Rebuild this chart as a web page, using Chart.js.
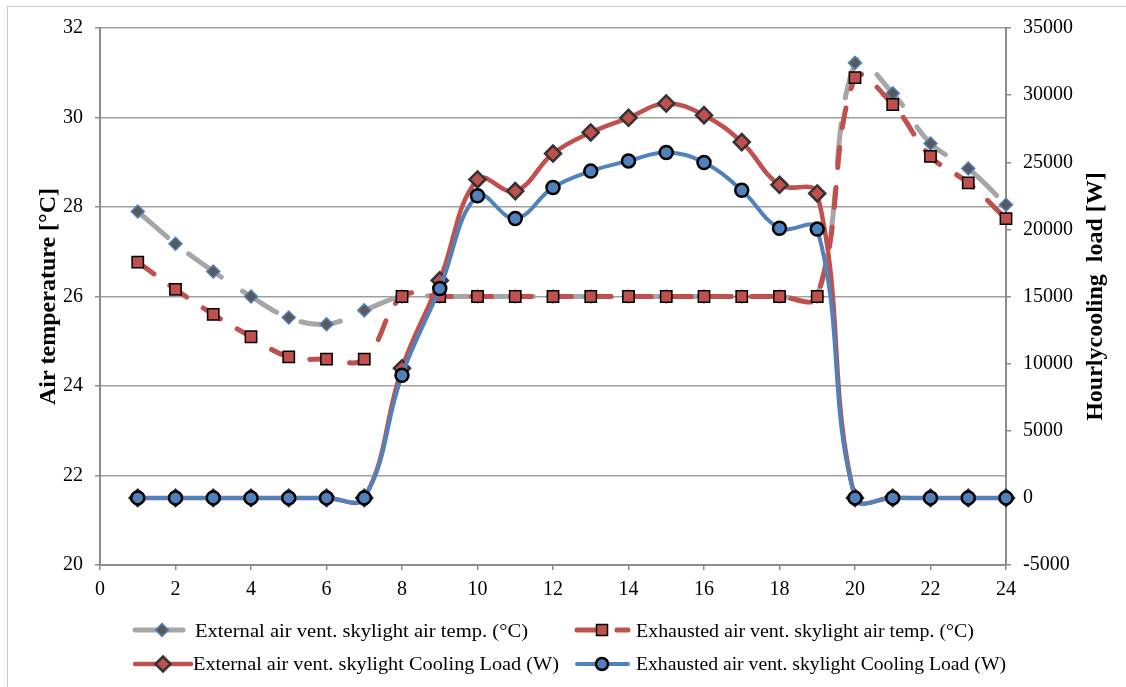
<!DOCTYPE html>
<html><head><meta charset="utf-8">
<script src="https://cdn.jsdelivr.net/npm/chart.js@4.4.1/dist/chart.umd.min.js"></script>
<style>
html,body{margin:0;padding:0;background:#fff;}
#wrap{position:relative;width:1126px;height:687px;overflow:hidden;background:#fff;}
#frame{position:absolute;left:7px;top:6px;width:1200px;height:800px;border:1px solid #c8c8c8;}
#c{position:absolute;left:0;top:0;}
.leg{position:absolute;font-family:'Liberation Serif','Times New Roman',serif;font-size:18px;line-height:20px;color:#000;white-space:pre;transform-origin:0 50%;}
#sw{position:absolute;left:0;top:600px;}
</style></head>
<body><div id="wrap"><div id="frame"></div><canvas id="c" width="1126" height="687"></canvas>
<svg id="sw" width="1126" height="87" xmlns="http://www.w3.org/2000/svg"></svg>
</div>
<script>
// ---- data ----
const hours = [1,2,3,4,5,6,7,8,9,10,11,12,13,14,15,16,17,18,19,20,21,22,23,24];
const extTemp = [27.9,27.18,26.56,26.0,25.53,25.38,25.69,26.0,26.0,26.0,26.0,26.0,26.0,26.0,26.0,26.0,26.0,26.0,26.0,31.22,30.54,29.42,28.86,28.05];
const exhTemp = [26.77,26.16,25.6,25.1,24.65,24.6,24.6,26.0,26.0,26.0,26.0,26.0,26.0,26.0,26.0,26.0,26.0,26.0,26.0,30.89,30.29,29.13,28.54,27.74];
const extLoad = [0,0,0,0,0,0,0,9660,16200,23720,22850,25650,27220,28310,29380,28510,26500,23320,22680,0,0,0,0,0];
const exhLoad = [0,0,0,0,0,0,0,9140,15600,22500,20810,23120,24340,25100,25730,24980,22920,20090,20020,0,0,0,0,0];
const seriesNames = [
  'External air vent. skylight air temp. (°C)',
  'Exhausted air vent. skylight air temp. (°C)',
  'External air vent. skylight Cooling Load (W)',
  'Exhausted air vent. skylight Cooling Load (W)'
];
const xTicks = [0,2,4,6,8,10,12,14,16,18,20,22,24];
const leftTitle = 'Air temperature [°C]';
const rightTitle = 'Hourlycooling  load [W]';

const pts = arr => hours.map((h,i)=>({x:h,y:arr[i]}));
const FONT = "'Liberation Serif','Times New Roman',serif";
const GRAY='#A6A6A6', RED='#C0504D', BLUE='#4F81BD';
const axisCol='#8c8c8c';

const rightTitlePlugin = {
  id:'rtitle',
  afterDraw(chart){
    const ctx = chart.ctx, ca = chart.chartArea;
    ctx.save();
    ctx.translate(1096, (ca.top+ca.bottom)/2);
    ctx.rotate(-Math.PI/2);
    ctx.font = "bold 24px "+FONT;
    ctx.fillStyle='#000'; ctx.textAlign='center'; ctx.textBaseline='middle';
    ctx.fillText(rightTitle,0,0);
    ctx.restore();
  }
};

new Chart(document.getElementById('c'), {
  type:'line',
  data:{datasets:[
    {label:seriesNames[0], data:pts(extTemp), yAxisID:'y', order:4, borderColor:GRAY, borderWidth:5, borderDash:[40,26], borderCapStyle:'round', tension:0.4,
     pointStyle:'rectRot', pointRadius:6.5, pointBackgroundColor:'#595959', pointBorderColor:BLUE, pointBorderWidth:1.5, clip:false},
    {label:seriesNames[1], data:pts(exhTemp), yAxisID:'y', order:3, borderColor:RED, borderWidth:5, borderDash:[20,20], borderCapStyle:'round', tension:0.4,
     pointStyle:'rect', pointRadius:8, pointBackgroundColor:RED, pointBorderColor:'#000', pointBorderWidth:1.5, clip:false},
    {label:seriesNames[2], data:pts(extLoad), yAxisID:'y1', order:2, borderColor:RED, borderWidth:4.5, tension:0.4,
     pointStyle:'rectRot', pointRadius:8, pointBackgroundColor:RED, pointBorderColor:'#333', pointBorderWidth:2.5, clip:false},
    {label:seriesNames[3], data:pts(exhLoad), yAxisID:'y1', order:1, borderColor:BLUE, borderWidth:4, tension:0.4,
     pointStyle:'circle', pointRadius:6.5, pointBackgroundColor:BLUE, pointBorderColor:'#000', pointBorderWidth:2.5, clip:false}
  ]},
  options:{
    responsive:false, animation:false, events:[],
    layout:{padding:{top:28,left:0,right:0,bottom:0}},
    plugins:{legend:{display:false}, tooltip:{enabled:false}},
    scales:{
      x:{type:'linear', position:'bottom', min:0, max:24,
        afterBuildTicks(s){ s.ticks = xTicks.map(v=>({value:v})); },
        ticks:{font:{family:FONT,size:20}, color:'#000', padding:8, maxRotation:0, autoSkip:false, callback:v=>String(v)},
        grid:{drawOnChartArea:false, drawTicks:true, tickLength:5, color:axisCol, lineWidth:1.5},
        border:{color:axisCol, width:2},
        afterFit(s){ s.height = 122; }
      },
      y:{position:'left', min:20, max:32,
        ticks:{stepSize:2, font:{family:FONT,size:20}, color:'#000', padding:12, callback:v=>String(v)},
        grid:{color:'#a0a0a0', lineWidth:1.5, tickLength:5, tickColor:axisCol},
        border:{color:axisCol, width:2},
        title:{display:true, text:leftTitle, font:{family:FONT,size:24,weight:'bold'}, color:'#000', padding:{top:34,bottom:0}},
        afterFit(s){ s.width = 100; }
      },
      y1:{position:'right', min:-5000, max:35000,
        ticks:{stepSize:5000, font:{family:FONT,size:20}, color:'#000', padding:12, callback:v=>String(v)},
        grid:{drawOnChartArea:false, tickLength:5, color:axisCol, lineWidth:1.5},
        border:{color:axisCol, width:2},
        afterFit(s){ s.width = 120; }
      }
    }
  },
  plugins:[rightTitlePlugin]
});

// ---- legend (HTML text + SVG samples) ----
const legendItems = [
  {name:seriesNames[0], tx:195, ty:621, tw:333, sx1:135, sx2:183, sy:30, mx:162},
  {name:seriesNames[1], tx:636, ty:621, tw:338, sx1:577, sx2:628, sy:30, mx:602},
  {name:seriesNames[2], tx:193, ty:654, tw:366, sx1:135, sx2:191, sy:64, mx:163},
  {name:seriesNames[3], tx:636, ty:654, tw:370, sx1:577, sx2:628, sy:64, mx:602}
];
const wrap = document.getElementById('wrap');
const svg = document.getElementById('sw');
let s = '';
legendItems.forEach((it,i)=>{
  const sp = document.createElement('span');
  sp.className='leg'; sp.textContent = it.name;
  sp.style.left = it.tx+'px'; sp.style.top = it.ty+'px';
  wrap.appendChild(sp);
  const w = sp.getBoundingClientRect().width;
  sp.style.transform = 'scaleX('+(it.tw/w).toFixed(4)+')';
  const y = it.sy, m = it.mx;
  if(i===0){
    s += `<line x1="${it.sx1}" y1="${y}" x2="${it.sx2}" y2="${y}" stroke="${GRAY}" stroke-width="5" stroke-linecap="round"/>`;
    s += `<polygon points="${m},${y-6.5} ${m+6.5},${y} ${m},${y+6.5} ${m-6.5},${y}" fill="#595959" stroke="${BLUE}" stroke-width="1.5"/>`;
  } else if(i===1){
    s += `<line x1="${it.sx1}" y1="${y}" x2="${it.sx2}" y2="${y}" stroke="${RED}" stroke-width="5" stroke-linecap="round" stroke-dasharray="20 20"/>`;
    s += `<rect x="${m-5.5}" y="${y-5.5}" width="11" height="11" fill="${RED}" stroke="#000" stroke-width="1.5"/>`;
  } else if(i===2){
    s += `<line x1="${it.sx1}" y1="${y}" x2="${it.sx2}" y2="${y}" stroke="${RED}" stroke-width="4.5" stroke-linecap="round"/>`;
    s += `<polygon points="${m},${y-7.5} ${m+7.5},${y} ${m},${y+7.5} ${m-7.5},${y}" fill="${RED}" stroke="#333" stroke-width="2.5"/>`;
  } else {
    s += `<line x1="${it.sx1}" y1="${y}" x2="${it.sx2}" y2="${y}" stroke="${BLUE}" stroke-width="4" stroke-linecap="round"/>`;
    s += `<circle cx="${m}" cy="${y}" r="6" fill="${BLUE}" stroke="#000" stroke-width="2.5"/>`;
  }
});
svg.innerHTML = s;
</script>
</body></html>
